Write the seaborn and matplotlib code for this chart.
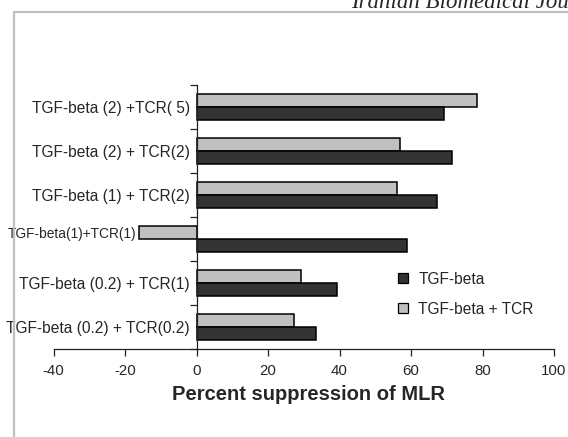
import pandas as pd
import matplotlib.pyplot as plt
import seaborn as sns
from matplotlib.lines import Line2D
from matplotlib.transforms import ScaledTranslation

# Conditions, top to bottom
conditions = ['TGF-beta (2) +TCR( 5)', 'TGF-beta (2) + TCR(2)', 'TGF-beta (1) + TCR(2)',
              'TGF-beta(1)+TCR(1)', 'TGF-beta (0.2) + TCR(1)', 'TGF-beta (0.2) + TCR(0.2)']
tgf_tcr = [78.5, 56.8, 56.2, -16.2, 29.3, 27.3]
tgf = [69.3, 71.4, 67.3, 59.0, 39.4, 33.3]

df = pd.DataFrame({
    'condition': conditions * 2,
    'value': tgf_tcr + tgf,
    'series': ['TGF-beta + TCR'] * 6 + ['TGF-beta'] * 6,
})

sns.set_style('white')
plt.rcParams['font.family'] = ['Liberation Sans', 'DejaVu Sans']
plt.rcParams['axes.unicode_minus'] = False

fig = plt.figure(figsize=(5.68, 4.37), dpi=100)
ax = fig.add_axes([53.6 / 568, 88 / 437, 500.4 / 568, 264 / 437])

colors = {'TGF-beta + TCR': '#c0c0c0', 'TGF-beta': '#333333'}
sns.barplot(data=df, x='value', y='condition', hue='series',
            hue_order=['TGF-beta + TCR', 'TGF-beta'], palette=colors,
            orient='h', width=0.61, edgecolor='black', linewidth=1.1,
            errorbar=None, legend=False, ax=ax)

ax.set_xlim(-40, 100)
ax.set_ylim(5.5, -0.5)
ax.set_xticks(range(-40, 101, 20))
ax.set_yticks([i - 0.5 for i in range(7)], labels=[])
ax.set_yticks(range(6), labels=conditions, minor=True)

for s in ['top', 'right']:
    ax.spines[s].set_visible(False)
ax.spines['left'].set_position(('data', 0))
for s in ['left', 'bottom']:
    ax.spines[s].set_color('#222222')
    ax.spines[s].set_linewidth(0.9)

ax.tick_params(axis='x', direction='out', length=5, width=0.9, color='#222222',
               labelsize=10.8, pad=6, bottom=True)
ax.tick_params(axis='y', which='major', direction='out', length=5, width=0.9,
               color='#222222', left=True)
ax.tick_params(axis='y', which='minor', length=0, labelsize=11.2, pad=5)

# the small label sits left of the negative bar
lbl = ax.get_yticklabels(minor=True)[3]
lbl.set_fontsize(9.9)
lbl.set_transform(lbl.get_transform() + ScaledTranslation(-0.53, 0.07, fig.dpi_scale_trans))

ax.set_xlabel('Percent suppression of MLR', fontsize=14.5, fontweight='bold', labelpad=5)
ax.xaxis.label.set_x(0.51)
ax.set_ylabel('')

handles = [Line2D([], [], marker='s', linestyle='none', markersize=7.5,
                  markerfacecolor=colors[k], markeredgecolor='black', markeredgewidth=0.9)
           for k in ['TGF-beta', 'TGF-beta + TCR']]
ax.legend(handles, ['TGF-beta', 'TGF-beta + TCR'], frameon=False, fontsize=11.2,
          loc='upper left', bbox_to_anchor=(0.654, 0.345), labelspacing=0.95,
          handletextpad=0.5, handlelength=1.0)

# outer chart frame and journal header
fig.add_artist(Line2D([13.5 / 568, 13.5 / 568], [0, 1 - 11.5 / 437], color='#c0c0c0', lw=1.6))
fig.add_artist(Line2D([13.5 / 568, 1], [1 - 11.5 / 437, 1 - 11.5 / 437], color='#c0c0c0', lw=1.6))
fig.text(351 / 568, 1 - 8.5 / 437, 'Iranian Biomedical Journal', fontsize=16.5, style='italic',
         family='Liberation Serif', va='baseline', ha='left')

fig.savefig('out.png', dpi=100)
